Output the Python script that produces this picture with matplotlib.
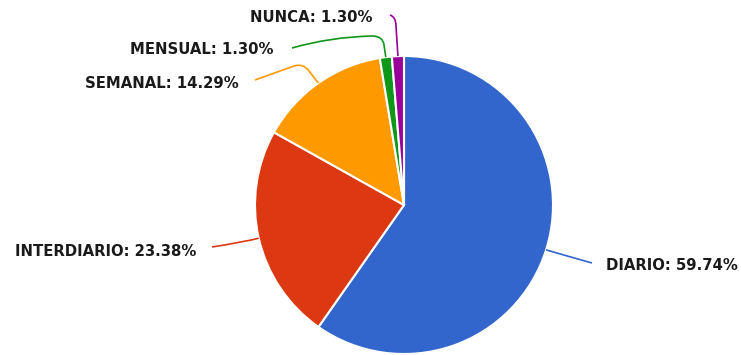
import numpy as np
import matplotlib.pyplot as plt
from matplotlib.path import Path
from matplotlib.patches import PathPatch

labels = ["DIARIO", "INTERDIARIO", "SEMANAL", "MENSUAL", "NUNCA"]
values = [59.74, 23.38, 14.29, 1.30, 1.30]
colors = ["#3366cc", "#dc3912", "#ff9900", "#109618", "#990099"]

W, H = 741, 355
CX, CY, R = 404, 205, 149   # pie centre / radius in pixels (y from top)


def py(y):
    # pixel row (top-down) -> data y (bottom-up)
    return H - y


fig = plt.figure(figsize=(W / 100, H / 100), dpi=100)
ax = fig.add_axes([0, 0, 1, 1])

ax.pie(values, colors=colors, startangle=90, counterclock=False,
       radius=R, center=(CX, py(CY)),
       wedgeprops=dict(edgecolor="white", linewidth=1.5))
ax.set_xlim(0, W)
ax.set_ylim(0, H)
ax.set_aspect("equal")
ax.axis("off")

# edge point of every slice at its middle angle (clockwise from 12 o'clock)
total = sum(values)
cum = np.cumsum([0] + values[:-1])
mids = [(c + v / 2) / total * 2 * np.pi for c, v in zip(cum, values)]
edges = [(CX + R * np.sin(a), CY - R * np.cos(a)) for a in mids]

# leader paths after the slice edge point, and label anchors
leaders = [
    [(Path.CURVE3, (560, 254)), (Path.CURVE3, (592, 263))],
    [(Path.CURVE3, (244, 242)), (Path.CURVE3, (212, 247))],
    [(Path.LINETO, (309, 71)), (Path.CURVE3, (303, 63)), (Path.CURVE3, (294, 66)),
     (Path.LINETO, (255, 80))],
    [(Path.LINETO, (384, 45)), (Path.CURVE3, (383, 36)), (Path.CURVE3, (372, 36)),
     (Path.CURVE3, (330, 37)), (Path.CURVE3, (292, 48))],
    [(Path.LINETO, (396, 26)), (Path.CURVE3, (396, 17)), (Path.CURVE3, (390, 15))],
]
label_pos = [(606, 266, "left"), (196, 251, "right"), (239, 83, "right"),
             (274, 50, "right"), (373, 17, "right")]

for lab, val, col, edge, seg, (tx, ty, ha) in zip(labels, values, colors, edges,
                                                   leaders, label_pos):
    verts = [(edge[0], py(edge[1]))] + [(x, py(y)) for _, (x, y) in seg]
    codes = [Path.MOVETO] + [c for c, _ in seg]
    ax.add_patch(PathPatch(Path(verts, codes), facecolor="none",
                           edgecolor=col, linewidth=1.2))
    ax.text(tx, py(ty), f"{lab}: {val:.2f}%", ha=ha, va="center",
            fontsize=10.7, fontweight="bold", color="#1a1a1a")

fig.savefig("out.png", dpi=100, facecolor="white")
